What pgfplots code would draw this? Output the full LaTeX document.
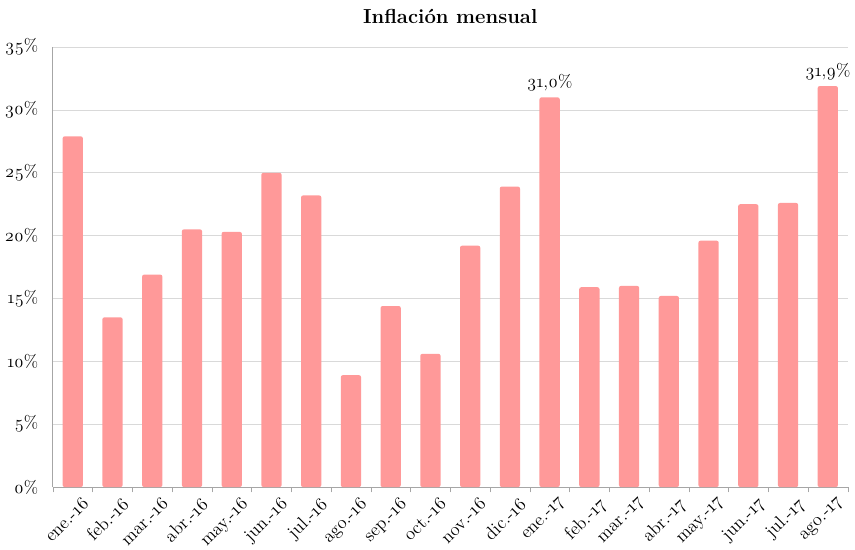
\documentclass[border=0pt]{standalone}
\usepackage{fontspec}
\setmainfont{Latin Modern Roman}[Numbers=OldStyle]
\usepackage{pgfplots}
\pgfplotsset{compat=1.18}
\usepackage{pgfplotstable}
\definecolor{barpink}{HTML}{FF9999}
\definecolor{gridgray}{HTML}{D9D9D9}
\definecolor{axgray}{HTML}{A6A6A6}
\pgfplotstableread{
x y
0 27.9
1 13.5
2 16.9
3 20.5
4 20.3
5 25.0
6 23.2
7 8.9
8 14.4
9 10.6
10 19.2
11 23.9
12 31.0
13 15.9
14 16.0
15 15.2
16 19.6
17 22.5
18 22.6
19 31.9
}\datatable
\pgfplotstableread{
x y label
12 31.0 31,0\%
19 31.9 31,9\%
}\labeltable
\begin{document}
\begin{tikzpicture}
\begin{axis}[
  scale only axis,
  width=588pt, height=325.5pt,
  xmin=-0.5, xmax=19.5,
  ymin=0, ymax=35,
  ytick={0,5,...,35},
  yticklabel={\pgfmathprintnumber{\tick}\%},
  /pgf/number format/assume math mode=true,
  xtick={0,...,19},
  xticklabels={ene.-16,feb.-16,mar.-16,abr.-16,may.-16,jun.-16,jul.-16,ago.-16,sep.-16,oct.-16,nov.-16,dic.-16,ene.-17,feb.-17,mar.-17,abr.-17,may.-17,jun.-17,jul.-17,ago.-17},
  x tick label style={rotate=45, anchor=north east, inner sep=0pt, xshift=3pt, yshift=-6pt, font=\fontsize{13.5}{15}\selectfont},
  major x tick style={draw=none},
  minor xtick={-0.5,0.5,...,19.5},
  minor x tick style={draw=axgray},
  minor tick length=4pt,
  tick align=outside,
  major y tick style={draw=none},
  y tick label style={xshift=-3pt, font=\fontsize{13}{15}\selectfont},
  ymajorgrids,
  grid style={gridgray, line width=0.6pt},
  axis x line*=bottom,
  axis y line*=left,
  axis line style={axgray, line width=0.6pt},
  title={Inflación mensual},
  title style={font=\fontsize{15}{17}\selectfont\bfseries, yshift=4pt, inner ysep=7pt},
  clip=false,
]
\addplot[ybar, bar width=15pt, fill=barpink, draw=none, rounded corners=1.5pt] table[x=x,y=y]{\datatable};
\addplot[only marks, mark=none, nodes near coords, point meta=explicit symbolic,
  nodes near coords style={font=\fontsize{13}{15}\selectfont, anchor=south, yshift=1pt}]
  table[x=x,y=y,meta=label]{\labeltable};
\end{axis}
\end{tikzpicture}
\end{document}
